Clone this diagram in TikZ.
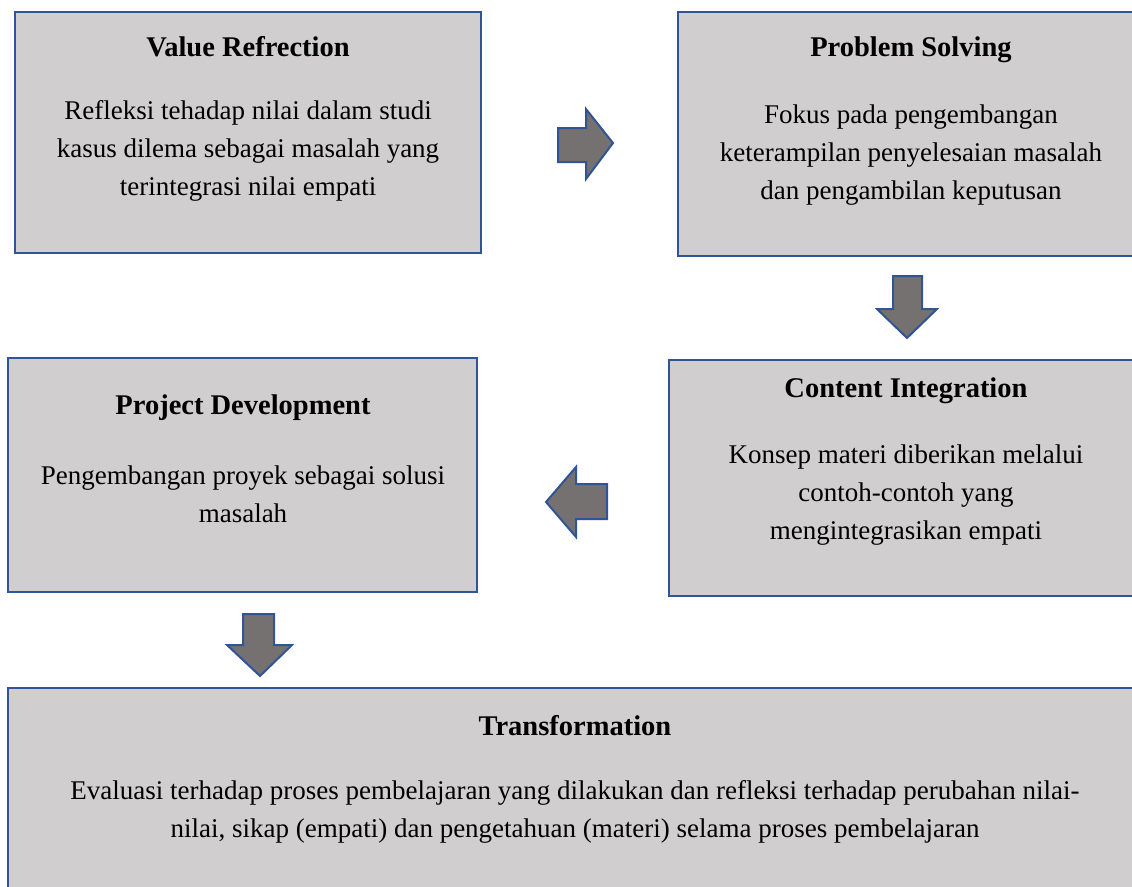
\documentclass[tikz,border=0pt]{standalone}
\usepackage{fontspec}
\setmainfont{Liberation Serif}
\definecolor{boxfill}{HTML}{D0CECE}
\definecolor{boxline}{HTML}{2F5597}
\definecolor{arrfill}{HTML}{767171}
\begin{document}
\begin{tikzpicture}[x=1pt,y=-1pt,
  box/.style={fill=boxfill,draw=boxline,line width=2.5pt},
  blockarrow/.style={fill=arrfill,draw=boxline,line width=2pt,line join=miter},
  ttl/.style={font=\fontsize{28.5}{32}\selectfont\bfseries,anchor=center},
  body/.style={font=\fontsize{27}{38}\selectfont,align=center,anchor=center}]
\useasboundingbox (0,0) rectangle (1132,886);
\clip (0,0) rectangle (1132,886);
% boxes
\draw[box] (15,12) rectangle (481,253);
\draw[box] (678,12) rectangle (1145,256);
\draw[box] (8,358) rectangle (477,592);
\draw[box] (669,360) rectangle (1145,596);
\draw[box] (8,688) rectangle (1145,900);
% texts
\node[ttl] (t1) at (248,47) {Value Refrection};
\node[body] (b1) at (248,151) {Refleksi tehadap nilai dalam studi\\kasus dilema sebagai masalah yang\\terintegrasi nilai empati};
\node[ttl] (t2) at (911,50) {Problem Solving};
\node[body] (b2) at (911,155) {Fokus pada pengembangan\\keterampilan penyelesaian masalah\\dan pengambilan keputusan};
\node[ttl] (t3) at (243,408) {Project Development};
\node[body] (b3) at (243,494) {Pengembangan proyek sebagai solusi\\masalah};
\node[ttl] (t4) at (906,391) {Content Integration};
\node[body] (b4) at (906,495) {Konsep materi diberikan melalui\\contoh-contoh yang\\mengintegrasikan empati};
\node[ttl] (t5) at (575,726) {Transformation};
\node[body] (b5) at (575,812) {Evaluasi terhadap proses pembelajaran yang dilakukan dan refleksi terhadap perubahan nilai-\\nilai, sikap (empati) dan pengetahuan (materi) selama proses pembelajaran};
% block arrows
\draw[blockarrow] (558,128) -- (586,128) -- (586,109) -- (613,143) -- (586,179) -- (586,162) -- (558,162) -- cycle;
\draw[blockarrow] (893,276) -- (922,276) -- (922,309) -- (937,309) -- (907,338) -- (877,309) -- (893,309) -- cycle;
\draw[blockarrow] (607,484) -- (576,484) -- (576,467) -- (546,502) -- (576,537) -- (576,519) -- (607,519) -- cycle;
\draw[blockarrow] (243,614) -- (274,614) -- (274,645) -- (292,645) -- (260,676) -- (227,645) -- (243,645) -- cycle;
\end{tikzpicture}
\end{document}
